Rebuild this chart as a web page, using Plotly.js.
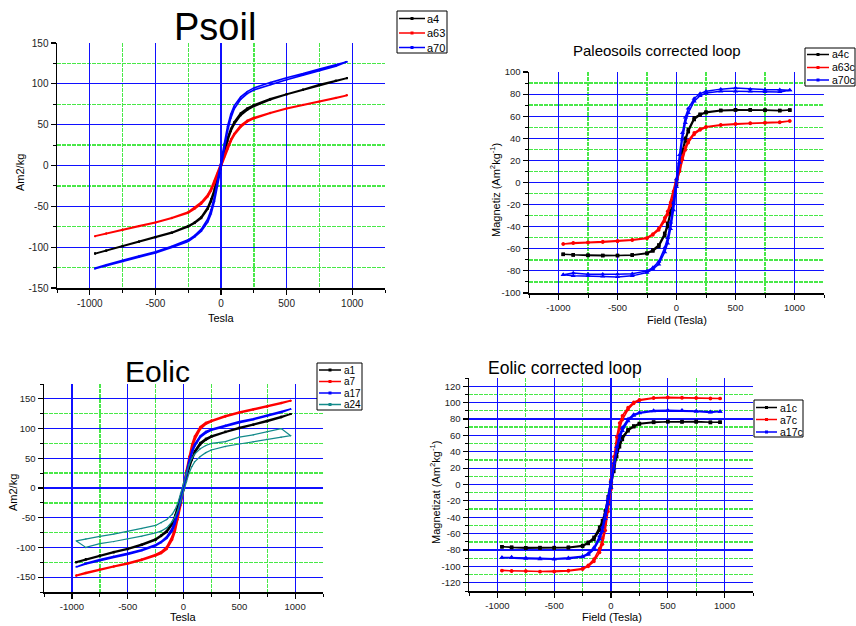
<!DOCTYPE html>
<html>
<head>
<meta charset="utf-8">
<script src="https://cdn.plot.ly/plotly-3.0.1.min.js"></script>
<style>html,body{margin:0;padding:0;background:#fff;}#chart{width:856px;height:626px;}</style>
</head>
<body>
<div id="chart"></div>
<script>
// Field steps (descending branch order, Tesla)
const FIELD = [960, 875, 750, 625, 500, 375, 250, 200, 150, 100, 75, 50, 25, 0, -25, -50, -75, -100, -150, -200, -250, -375, -500, -625, -750, -875, -960];

// Tick values / labels
const X_TICKS = [-1000, -500, 0, 500, 1000];
const X_LABELS = ['-1000', '-500', '0', '500', '1000'];
const X_MINOR = [-1250, -750, -250, 250, 750, 1250];
const Y1_TICKS = [-150, -100, -50, 0, 50, 100, 150];
const Y1_LABELS = ['-150', '-100', '-50', '0', '50', '100', '150'];
const Y1_MINOR = [-125, -75, -25, 25, 75, 125];
const Y2_TICKS = [-100, -80, -60, -40, -20, 0, 20, 40, 60, 80, 100];
const Y2_LABELS = ['-100', '-80', '-60', '-40', '-20', '0', '20', '40', '60', '80', '100'];
const Y2_MINOR = [-90, -70, -50, -30, -10, 10, 30, 50, 70, 90];
const Y3_TICKS = Y1_TICKS;
const Y3_LABELS = Y1_LABELS;
const Y3_MINOR = [-175, -125, -75, -25, 25, 75, 125, 175];
const Y4_TICKS = [-120, -100, -80, -60, -40, -20, 0, 20, 40, 60, 80, 100, 120];
const Y4_LABELS = ['-120', '-100', '-80', '-60', '-40', '-20', '0', '20', '40', '60', '80', '100', '120'];
const Y4_MINOR = [-130, -110, -90, -70, -50, -30, -10, 10, 30, 50, 70, 90, 110, 130];

// ---- Psoil (uncorrected) : desc branch and asc branch, both listed in FIELD order
const a4_desc  = [107, 104, 99, 93, 87.5, 81.5, 74, 70, 64, 53, 45, 34, 19, 3, -14, -29, -41, -51, -63, -69.5, -74, -82, -87.5, -93, -98.5, -104, -107.5];
const a4_asc   = [107, 103.5, 98.5, 92.5, 87, 80.5, 72.5, 68, 61.5, 50.5, 42, 30, 15, -2, -18, -33, -44, -53, -64.5, -70.5, -75, -82.5, -88, -93.5, -99, -104.5, -108];
const a63_desc = [86, 83, 78.5, 74.5, 70, 64.5, 58.5, 55, 49, 39, 32, 23, 13, 2, -9, -19, -28, -35.5, -45, -51, -57, -64, -69.5, -74, -78.5, -83, -86.5];
const a63_asc  = [86, 82.5, 78, 74, 69.5, 64, 57.5, 53.5, 47, 37, 29.5, 20, 10, -2, -12, -22, -31, -38, -47, -53, -58, -64.5, -70, -74.5, -79, -83.5, -86.5];
const a70_desc = [127, 123, 118, 112.5, 107.5, 101.5, 95, 90.5, 84, 73, 63, 48, 27, 5, -18, -38, -54, -65, -78, -85.5, -91, -99, -105.5, -110.5, -116, -121.5, -125.5];
const a70_asc  = [127, 121.5, 116, 110.5, 105, 99, 92.5, 88, 81, 69, 58, 42, 20, -3, -25, -44, -59, -69, -80.5, -87.5, -93, -100.5, -107, -112.5, -118, -123, -126.5];

// ---- Paleosoils corrected loop
const a4c_desc  = [65.5, 65.2, 65.5, 65.8, 65.8, 65.3, 63.8, 61.8, 58.5, 48, 40, 29, 15, 1, -13, -26, -37, -46, -56.5, -61, -63.8, -65.5, -66, -66, -65.8, -65.4, -65];
const a4c_asc   = [65.5, 65, 65.3, 65.6, 65.6, 65, 63.2, 61, 57, 46, 37.5, 26, 12, -2, -16, -29, -40, -48, -58, -62, -64.3, -65.8, -66.2, -66.2, -66, -65.6, -65];
const a63c_desc = [55.7, 54.8, 54.2, 53.8, 53.2, 52.3, 50.5, 48.5, 45, 38, 32, 24, 14, 3, -8, -18, -26, -32, -41.5, -46.5, -50, -51.8, -52.8, -53.5, -54, -54.5, -55.7];
const a63c_asc  = [55.7, 54.3, 53.8, 53.3, 52.8, 51.8, 50, 47.5, 43.5, 36, 29.5, 21, 10, -1, -12, -21, -29, -35, -43, -47.5, -50.6, -52.3, -53.3, -54, -54.5, -55, -55.7];
const a70c_desc = [83.5, 84, 84, 84.5, 85.5, 84.5, 82.5, 80.5, 76, 67, 59, 45, 25, 3, -18, -36, -50, -59, -71.5, -77, -80, -82.5, -83, -83, -83, -82, -83.5];
const a70c_asc  = [83.5, 82, 82, 82.5, 82.5, 82.5, 81, 78.5, 73.5, 63, 54, 39, 18, -4, -25, -42, -55, -63, -74, -78.5, -81.5, -84.5, -85.5, -85, -84.5, -84.5, -83.5];

// ---- Eolic (uncorrected)
const a1_desc  = [124.5, 120, 113, 107, 101.5, 95, 87.5, 83, 76, 62, 51, 37, 20, 3, -15, -32, -46, -58, -72, -79.5, -86, -95, -102, -107.5, -113.5, -119.5, -124.5];
const a1_asc   = [124.5, 119, 112, 106, 100.5, 94, 86, 81, 73, 59, 47, 33, 16, -2, -20, -36, -50, -61, -74, -81, -87.5, -96, -103, -108.5, -114.5, -120.5, -125];
const a7_desc  = [147, 143.5, 137.5, 132.5, 127.5, 121.5, 114, 110, 103, 87, 73, 53, 29, 4, -22, -46, -66, -81, -99, -107.5, -112, -120, -126.5, -131.5, -136.5, -142.5, -147];
const a7_asc   = [147, 142.5, 136.5, 131.5, 126.5, 120, 112, 107.5, 99, 81, 66, 46, 22, -4, -29, -53, -73, -87, -103, -110, -114, -121.5, -127.5, -132.5, -137.5, -143.5, -147.5];
const a17_desc = [133, 128.5, 122, 116.5, 112, 105.5, 99, 95, 88, 74, 63, 47, 26, 4, -18, -38, -54, -67, -82, -90, -95.5, -104, -110, -115, -120.5, -126.5, -132];
const a17_asc  = [133, 127, 120.5, 115, 110, 104, 97, 92.5, 85, 70, 58, 41, 20, -3, -25, -44, -60, -72, -85, -92, -97, -105.5, -112, -117, -122, -128, -133];
// a24: full measured loop (field, magnetisation)
const a24_field = [875, 750, 625, 500, 375, 250, 200, 150, 100, 75, 50, 25, 0, -25, -50, -75, -100, -150, -200, -250, -375, -500, -625, -750, -875, -960,
                   -875, -750, -625, -500, -375, -250, -200, -150, -100, -75, -50, -25, 0, 25, 50, 75, 100, 150, 200, 250, 375, 500, 625, 750, 875, 960, 875];
const a24_m     = [100, 94.5, 89.5, 85.5, 78, 75, 71.5, 66, 57, 50, 39, 24, 7, -10, -25, -36, -44, -53, -58.5, -63, -68, -73, -77.5, -81.5, -86, -89,
                   -100, -93.5, -90, -86, -81, -75.5, -72.5, -67, -56, -48, -37, -22, -5, 10, 25, 36, 44, 53, 59.5, 64, 70, 74, 78, 82, 85.5, 88, 100];

// ---- Eolic corrected loop
const a1c_desc  = [76, 76, 77, 76.8, 77, 76.3, 74.5, 71.5, 67, 58, 50, 39, 22, 3, -15, -32, -44, -52, -64.5, -70.5, -74.5, -76.5, -77, -77, -77.2, -76.5, -76];
const a1c_asc   = [76, 75.6, 76.3, 76.3, 76.5, 75.8, 73.8, 70.5, 65.5, 55, 46, 34, 16, -3, -21, -37, -48, -56, -67, -72, -75.5, -77.3, -77.6, -77.6, -77.8, -77, -76];
const a7c_desc  = [105, 105.3, 105.8, 106.2, 106.6, 106, 103.5, 100.5, 94, 84, 75, 58, 34, 6, -24, -48, -66, -78, -91, -98.5, -102.5, -105, -106, -106.2, -105.6, -105.3, -105];
const a7c_asc   = [105, 104.8, 105.3, 105.7, 106, 105.3, 102.5, 99, 91.5, 79, 68, 50, 26, -6, -33, -56, -73, -83, -94, -100, -103.5, -105.5, -106.6, -106.6, -106, -105.8, -105.3];
const a17c_desc = [89, 88.8, 89.8, 90.7, 90.7, 90.2, 88, 85.5, 80, 69.5, 60, 46, 26, 4, -17, -37, -52, -63, -77, -84, -87.5, -89.5, -90.5, -90, -89.5, -88.5, -89];
const a17c_asc  = [89, 88, 89, 89.8, 89.8, 89.5, 87, 84, 77.5, 65.5, 55, 40, 19, -4, -24, -42, -57, -67, -79.5, -85.5, -88.5, -90.5, -91.3, -91, -90.5, -89.5, -89.3];

function loopX(f) { return f.concat(f.slice().reverse()); }
function loopY(desc, asc) { return desc.concat(asc.slice().reverse()); }

const FONT = 'Liberation Sans, Arial, sans-serif';
const BLACK = '#000000', RED = '#ff0000', BLUE = '#0000ff', TEAL = '#138a8a';

function tr(name, x, y, color, symbol, xa, ya, msize, lw) {
  return {
    type: 'scatter', mode: 'lines+markers', name: name, x: x, y: y,
    xaxis: xa, yaxis: ya, showlegend: false,
    line: {color: color, width: lw},
    marker: {color: color, symbol: symbol, size: msize},
  };
}

const data = [
  tr('a4',  loopX(FIELD), loopY(a4_desc, a4_asc),   BLACK, 'square', 'x', 'y', 2, 1.8),
  tr('a63', loopX(FIELD), loopY(a63_desc, a63_asc), RED,   'circle', 'x', 'y', 2, 1.8),
  tr('a70', loopX(FIELD), loopY(a70_desc, a70_asc), BLUE,  'triangle-up', 'x', 'y', 2, 1.6),

  tr('a4c',  loopX(FIELD), loopY(a4c_desc, a4c_asc),   BLACK, 'square', 'x2', 'y2', 3.5, 1.5),
  tr('a63c', loopX(FIELD), loopY(a63c_desc, a63c_asc), RED,   'circle', 'x2', 'y2', 3.5, 1.5),
  tr('a70c', loopX(FIELD), loopY(a70c_desc, a70c_asc), BLUE,  'triangle-up', 'x2', 'y2', 4.5, 1.5),

  tr('a1',  loopX(FIELD), loopY(a1_desc, a1_asc),   BLACK, 'square', 'x3', 'y3', 2, 1.8),
  tr('a7',  loopX(FIELD), loopY(a7_desc, a7_asc),   RED,   'circle', 'x3', 'y3', 2, 1.8),
  tr('a17', loopX(FIELD), loopY(a17_desc, a17_asc), BLUE,  'triangle-up', 'x3', 'y3', 2, 1.6),
  tr('a24', a24_field, a24_m, TEAL, 'triangle-down', 'x3', 'y3', 2, 1.2),

  tr('a1c',  loopX(FIELD), loopY(a1c_desc, a1c_asc),   BLACK, 'square', 'x4', 'y4', 3.5, 1.5),
  tr('a7c',  loopX(FIELD), loopY(a7c_desc, a7c_asc),   RED,   'circle', 'x4', 'y4', 3.5, 1.5),
  tr('a17c', loopX(FIELD), loopY(a17c_desc, a17c_asc), BLUE,  'triangle-up', 'x4', 'y4', 4.5, 1.5),
];

const W = 856, H = 626;
function px(x) { return x / W; }
function py(y) { return 1 - y / H; }

function axis(dom, anchor, range, tv, tt, mv, fsize) {
  return {
    domain: dom, anchor: anchor, range: range, tickmode: 'array', tickvals: tv, ticktext: tt,
    showline: true, linecolor: '#000', linewidth: 1.5,
    ticks: 'outside', ticklen: 5, tickwidth: 1.2, tickcolor: '#000',
    showgrid: true, gridcolor: '#1010ff', gridwidth: 1.2,
    zeroline: false, fixedrange: true,
    tickfont: {family: FONT, size: fsize, color: '#222'},
    minor: {tickmode: 'array', tickvals: mv, ticks: 'outside', ticklen: 3, tickcolor: '#000', tickwidth: 1,
            showgrid: true, gridcolor: '#48e848', griddash: '4px,1px', gridwidth: 1.4},
  };
}

// Legend boxes drawn as shapes + text (layout only)
const shapes = [];
const annotations = [];
function legendBox(x0, y0, x1, y1, lx0, lx1, tx, fs, items) {
  shapes.push({type: 'rect', xref: 'paper', yref: 'paper', x0: px(x0), x1: px(x1), y0: py(y1), y1: py(y0),
               line: {color: '#000', width: 1}, fillcolor: '#fff', layer: 'above'});
  items.forEach(function (it) {
    shapes.push({type: 'line', xref: 'paper', yref: 'paper', x0: px(lx0), x1: px(lx1), y0: py(it[2]), y1: py(it[2]),
                 line: {color: it[1], width: 1.5}, layer: 'above'});
    const mx = (lx0 + lx1) / 2;
    shapes.push({type: 'rect', xref: 'paper', yref: 'paper', x0: px(mx - 1.5), x1: px(mx + 1.5), y0: py(it[2] + 1.5), y1: py(it[2] - 1.5),
                 line: {width: 0}, fillcolor: it[1], layer: 'above'});
    annotations.push({text: it[0], xref: 'paper', yref: 'paper', x: px(tx), y: py(it[2]), showarrow: false,
                      xanchor: 'left', yanchor: 'middle', borderpad: 0,
                      font: {family: FONT, size: fs, color: '#000'}});
  });
}
legendBox(397, 11, 447, 53, 399, 425, 426, 11, [['a4', BLACK, 18.5], ['a63', RED, 33], ['a70', BLUE, 47.5]]);
legendBox(805, 48, 855, 86, 807, 829, 831, 10.5, [['a4c', BLACK, 54.5], ['a63c', RED, 67.5], ['a70c', BLUE, 80]]);
legendBox(317, 363, 362, 410, 319, 341, 343, 10, [['a1', BLACK, 370], ['a7', RED, 381.5], ['a17', BLUE, 393], ['a24', TEAL, 404.5]]);
legendBox(754, 400, 803, 437, 756, 777, 779, 10.5, [['a1c', BLACK, 407.5], ['a7c', RED, 419.5], ['a17c', BLUE, 432]]);

function ann(text, x, y, size, angle) {
  return {text: text, xref: 'paper', yref: 'paper', x: px(x), y: py(y), showarrow: false,
          xanchor: 'center', yanchor: 'middle', textangle: angle || 0,
          font: {family: FONT, size: size, color: '#000'}};
}
annotations.push(
  ann('Psoil', 215, 27, 38),
  ann('Tesla', 221, 318, 11),
  ann('Am2/kg', 20, 173, 11, -90),
  ann('Paleosoils corrected loop', 657, 50, 15),
  ann('Field (Tesla)', 677, 320, 11),
  ann('Magnetiz (Am<sup>2</sup>kg<sup>-1</sup>)', 495, 190, 11, -90),
  ann('Eolic', 157, 371, 30),
  ann('Tesla', 183, 617, 11),
  ann('Am2/kg', 13, 493, 11, -90),
  ann('Eolic corrected loop', 565, 368, 17.5),
  ann('Field (Tesla)', 612, 617, 11),
  ann('Magnetizat (Am<sup>2</sup>kg<sup>-1</sup>)', 435, 493, 11, -90)
);

const layout = {
  width: W, height: H, margin: {l: 0, r: 0, t: 0, b: 0},
  paper_bgcolor: '#fff', plot_bgcolor: '#fff', showlegend: false,
  xaxis:  axis([px(57), px(385)], 'y', [-1250, 1250], X_TICKS, X_LABELS, X_MINOR, 10),
  yaxis:  axis([py(288), py(43)], 'x', [-150, 150], Y1_TICKS, Y1_LABELS, Y1_MINOR, 10),
  xaxis2: axis([px(529), px(824)], 'y2', [-1250, 1250], X_TICKS, X_LABELS, X_MINOR, 9.5),
  yaxis2: axis([py(293), py(72)], 'x2', [-100, 100], Y2_TICKS, Y2_LABELS, Y2_MINOR, 9.5),
  xaxis3: axis([px(44), px(323)], 'y3', [-1250, 1250], X_TICKS, X_LABELS, X_MINOR, 9.5),
  yaxis3: axis([py(592), py(384)], 'x3', [-175, 175], Y3_TICKS, Y3_LABELS, Y3_MINOR, 9.5),
  xaxis4: axis([px(469), px(753)], 'y4', [-1250, 1250], X_TICKS, X_LABELS, X_MINOR, 9.5),
  yaxis4: axis([py(591), py(378)], 'x4', [-130, 130], Y4_TICKS, Y4_LABELS, Y4_MINOR, 9.5),
  shapes: shapes,
  annotations: annotations,
};

Plotly.newPlot('chart', data, layout, {displayModeBar: false, staticPlot: true});
</script>
</body>
</html>
